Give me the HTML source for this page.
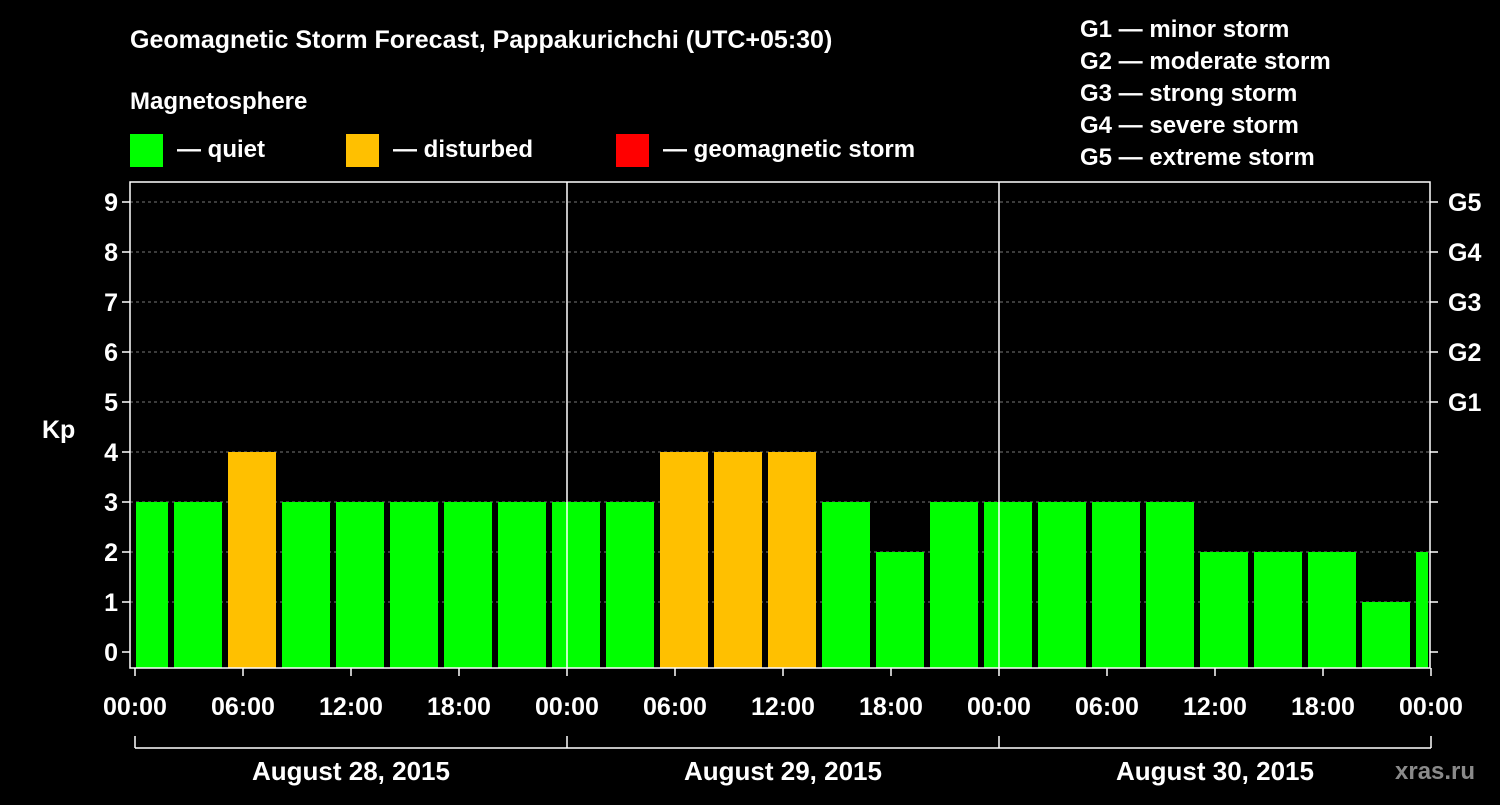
<!DOCTYPE html>
<html><head><meta charset="utf-8"><style>
body{margin:0;background:#000;width:1500px;height:800px;overflow:hidden}
svg text{font-family:"Liberation Sans",Arial,sans-serif;font-weight:bold;fill:#fff}
</style></head><body>
<svg id="c" width="1500" height="800" xmlns="http://www.w3.org/2000/svg">
<text x="130" y="48" font-size="25">Geomagnetic Storm Forecast, Pappakurichchi (UTC+05:30)</text>
<text x="130" y="109" font-size="24">Magnetosphere</text>
<g><rect x="130" y="134" width="33" height="33" fill="#00ff00"/><text x="177" y="157" font-size="24">— quiet</text></g>
<g><rect x="346" y="134" width="33" height="33" fill="#ffc000"/><text x="393" y="157" font-size="24">— disturbed</text></g>
<g><rect x="616" y="134" width="33" height="33" fill="#ff0000"/><text x="663" y="157" font-size="24">— geomagnetic storm</text></g>
<g font-size="24">
<text x="1080" y="37">G1 — minor storm</text><text x="1080" y="69">G2 — moderate storm</text><text x="1080" y="101">G3 — strong storm</text><text x="1080" y="133">G4 — severe storm</text><text x="1080" y="165">G5 — extreme storm</text></g>
<text x="42" y="438" font-size="25">Kp</text>
<text x="1395" y="779" font-size="24" fill="#888" style="fill:#8a8a8a">xras.ru</text>
<g id="grid"></g><g id="bars"></g><g id="axes"></g>
</svg>
<script>
const kpValues=[3,3,4,3,3,3,3,3,3,3,4,4,4,3,2,3,3,3,3,3,2,2,2,1,2];
const yTicks=[0,1,2,3,4,5,6,7,8,9];
const gLabels=["G1","G2","G3","G4","G5"];
const xTickLabels=["00:00","06:00","12:00","18:00","00:00","06:00","12:00","18:00","00:00","06:00","12:00","18:00","00:00"];
const dayLabels=["August 28, 2015","August 29, 2015","August 30, 2015"];
const NS="http://www.w3.org/2000/svg";
const L=130,R=1430,T=182,B=668,X0=135,PXH=18;
const x=h=>X0+h*PXH, y=v=>652-v*50;
function mk(p,t,a){const e=document.createElementNS(NS,t);for(const k in a)e.setAttribute(k,a[k]);p.appendChild(e);return e;}
const grid=document.getElementById('grid'),bars=document.getElementById('bars'),axes=document.getElementById('axes');
yTicks.forEach(v=>{if(v>0){const l=mk(grid,'line',{x1:L,x2:R,y1:y(v),y2:y(v),stroke:'#777','stroke-dasharray':'3,3'});

}
mk(axes,'line',{x1:L-8,x2:L,y1:y(v),y2:y(v),stroke:'#fff','stroke-width':1.5});
mk(axes,'line',{x1:R,x2:R+8,y1:y(v),y2:y(v),stroke:'#fff','stroke-width':1.5});
const t=mk(axes,'text',{x:L-12,y:y(v)+9,'font-size':25,'text-anchor':'end'});t.textContent=v;

});
gLabels.forEach((g,i)=>{const t=mk(axes,'text',{x:1448,y:y(5+i)+9,'font-size':25});t.textContent=g;

});
mk(bars,'clipPath',{id:'cp'});mk(document.getElementById('cp'),'rect',{x:L+6,y:T,width:R-L-8,height:B-T});
bars.setAttribute('clip-path','url(#cp)');
kpValues.forEach((v,i)=>{const c=x(0.5+3*i);const col=v>=5?'#ff0000':v>=4?'#ffc000':'#00ff00';
const r=mk(bars,'rect',{x:c-24,y:y(v),width:48,height:B-y(v),fill:col});

});
[1,2].forEach(d=>mk(axes,'line',{x1:x(24*d),x2:x(24*d),y1:T,y2:B,stroke:'#fff','stroke-width':1.5}));
mk(axes,'rect',{x:L,y:T,width:R-L,height:B-T,fill:'none',stroke:'#fff','stroke-width':1.5});
xTickLabels.forEach((s,i)=>{const xx=x(6*i);mk(axes,'line',{x1:xx,x2:xx,y1:B,y2:B+8,stroke:'#fff','stroke-width':1.5});
const t=mk(axes,'text',{x:xx,y:715,'font-size':25,'text-anchor':'middle'});t.textContent=s;

});
mk(axes,'line',{x1:x(0),x2:x(72),y1:748,y2:748,stroke:'#fff','stroke-width':1.5});
[0,1,2,3].forEach(d=>mk(axes,'line',{x1:x(24*d),x2:x(24*d),y1:736,y2:748,stroke:'#fff','stroke-width':1.5}));
dayLabels.forEach((s,i)=>{const t=mk(axes,'text',{x:x(24*i+12),y:780,'font-size':26,'text-anchor':'middle'});t.textContent=s;

});
</script></body></html>
